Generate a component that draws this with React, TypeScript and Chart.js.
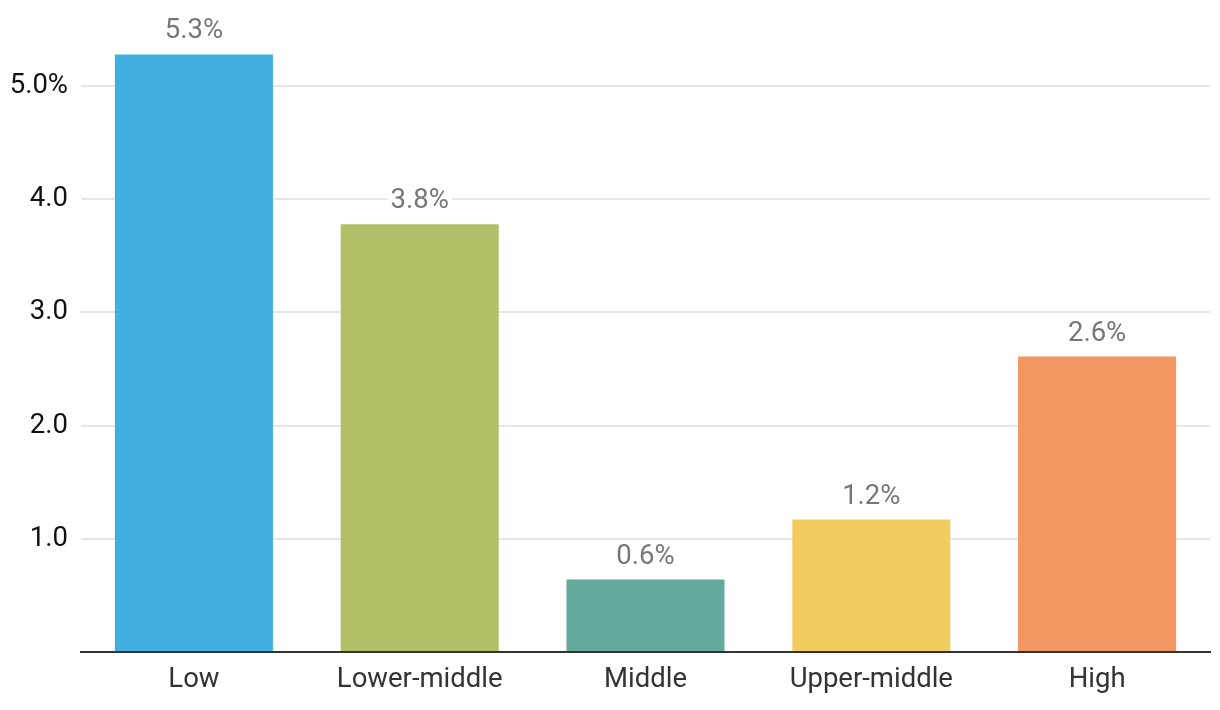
import React, { useEffect, useRef } from "react";
import { Chart, registerables } from "chart.js";

Chart.register(...registerables);

const categories = ["Low", "Lower-middle", "Middle", "Upper-middle", "High"];
const values = [5.28, 3.78, 0.64, 1.17, 2.61];
const barColors = ["#41AFE0", "#B2BF66", "#64AB9D", "#F2CC5F", "#F29761"];
const yTicks = [0, 1, 2, 3, 4, 5];

const FONT = "Roboto, 'Noto Sans', sans-serif";
const FS = 27.5;

const valueLabelPlugin = {
  id: "valueLabels",
  afterDatasetsDraw(chart: any) {
    const ctx = chart.ctx;
    const meta = chart.getDatasetMeta(0);
    ctx.save();
    ctx.font = `${FS}px ${FONT}`;
    ctx.textAlign = "center";
    ctx.textBaseline = "alphabetic";
    meta.data.forEach((bar: any, i: number) => {
      const text = values[i].toFixed(1) + "%";
      const w = ctx.measureText(text).width;
      const baseY = bar.y - 16;
      ctx.fillStyle = "#ffffff";
      ctx.fillRect(bar.x - w / 2 - 3, baseY - 21, w + 6, 23);
      ctx.fillStyle = "#777777";
      ctx.fillText(text, bar.x, baseY);
    });
    ctx.restore();
  },
};

export default function App() {
  const ref = useRef<HTMLCanvasElement | null>(null);

  useEffect(() => {
    if (!ref.current) return;
    const chart = new Chart(ref.current, {
      type: "bar",
      data: {
        labels: categories,
        datasets: [
          {
            data: values,
            backgroundColor: barColors,
            borderWidth: 0,
            barPercentage: 0.7,
            categoryPercentage: 1,
          },
        ],
      },
      options: {
        animation: false,
        responsive: false,
        maintainAspectRatio: false,
        layout: { padding: { top: 27, right: 10, left: 0, bottom: 0 } },
        plugins: {
          legend: { display: false },
          tooltip: { enabled: false },
        },
        scales: {
          x: {
            grid: { display: false },
            border: { display: true, color: "#333333", width: 2 },
            ticks: {
              color: "#333333",
              font: { family: FONT, size: FS },
              padding: 4,
              maxRotation: 0,
            },
            afterFit(scale: any) {
              scale.height = 58;
            },
          },
          y: {
            min: 0,
            max: 5.5,
            border: { display: false },
            grid: { color: "#e6e6e6", lineWidth: 2, drawTicks: false },
            afterBuildTicks(scale: any) {
              scale.ticks = yTicks.map((v) => ({ value: v }));
            },
            ticks: {
              color: "#111111",
              font: { family: FONT, size: FS },
              padding: 13,
              callback: (v: any) => {
                const n = Number(v);
                if (n === 0) return "";
                if (n === 5) return n.toFixed(1) + "%";
                return n.toFixed(1);
              },
            },
            afterFit(scale: any) {
              scale.width = 81;
            },
          },
        },
      },
      plugins: [valueLabelPlugin],
    });
    return () => chart.destroy();
  }, []);

  return (
    <div style={{ position: "absolute", left: 0, top: 0, width: 1220, height: 710 }}>
      <canvas ref={ref} width={1220} height={710} style={{ display: "block" }} />
    </div>
  );
}
